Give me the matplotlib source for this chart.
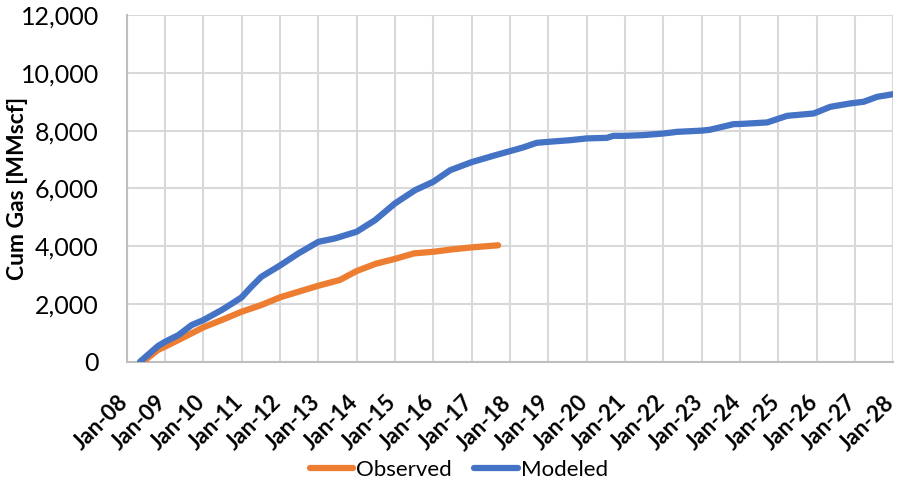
import matplotlib
matplotlib.use("Agg")
import matplotlib.pyplot as plt
from matplotlib.transforms import ScaledTranslation
import pandas as pd

# Cumulative gas production, observed history vs. model forecast
observed_dates = [
    "2008-06-05", "2008-10-25", "2009-01-01", "2009-07-10", "2010-01-01",
    "2010-06-25", "2011-01-01", "2011-07-08", "2012-01-01", "2012-06-25",
    "2013-01-01", "2013-07-25", "2014-01-01", "2014-07-01", "2015-01-01",
    "2015-07-01", "2016-01-01", "2016-07-01", "2017-01-01", "2017-09-10",
]
observed_values = [
    0, 405, 520, 865, 1190,
    1443, 1730, 1962, 2228, 2422,
    2630, 2830, 3140, 3390, 3560,
    3750, 3806, 3890, 3958, 4030,
]

modeled_dates = [
    "2008-05-08", "2008-10-25", "2009-01-01", "2009-05-08", "2009-09-12",
    "2010-01-01", "2010-06-25", "2010-10-30", "2011-01-01", "2011-04-05",
    "2011-07-08", "2012-01-01", "2012-06-25", "2013-01-01", "2013-06-10",
    "2014-01-01", "2014-06-25", "2015-01-01", "2015-07-12", "2016-01-01",
    "2016-06-10", "2017-01-01", "2017-08-15", "2018-01-01", "2018-05-08",
    "2018-09-12", "2019-01-01", "2019-07-30", "2020-01-01", "2020-07-12",
    "2020-09-12", "2021-01-01", "2021-06-25", "2022-01-01", "2022-05-12",
    "2023-01-01", "2023-03-20", "2023-11-02", "2024-01-01", "2024-09-15",
    "2025-03-25", "2025-12-05", "2026-05-10", "2026-11-15", "2027-03-25",
    "2027-07-30", "2028-01-01",
]
modeled_values = [
    0, 540, 690, 920, 1270,
    1440, 1790, 2080, 2230, 2600,
    2940, 3330, 3750, 4150, 4270,
    4500, 4900, 5480, 5940, 6230,
    6630, 6910, 7150, 7290, 7420,
    7578, 7612, 7670, 7730, 7750,
    7820, 7820, 7845, 7900, 7958,
    8000, 8030, 8225, 8230, 8283,
    8512, 8595, 8824, 8941, 9000,
    9170, 9263,
]

year_ticks = list(range(2008, 2029))
tick_labels = [f"Jan-{y % 100:02d}" for y in year_ticks]

plt.rcParams["font.family"] = ["Lato", "DejaVu Sans"]

fig = plt.figure(figsize=(8.98, 4.87), dpi=100)
ax = fig.add_axes([0.141, 0.2573, 0.8538, 0.7117])

obs_x = pd.to_datetime(observed_dates)
mod_x = pd.to_datetime(modeled_dates)

ax.plot(obs_x, observed_values, color="#ED7D31", lw=4.5,
        solid_capstyle="round", solid_joinstyle="round", label="Observed", zorder=3)
ax.plot(mod_x, modeled_values, color="#4472C4", lw=4.5,
        solid_capstyle="round", solid_joinstyle="round", label="Modeled", zorder=3)

ticks = [pd.Timestamp(f"{y}-01-01") for y in year_ticks]
ax.set_xticks(ticks)
ax.set_xlim(ticks[0], ticks[-1])

ax.set_ylim(0, 12000)
ax.set_yticks(range(0, 12001, 2000))
ax.yaxis.set_major_formatter(matplotlib.ticker.FuncFormatter(lambda v, p: f"{int(v):,}"))
ax.tick_params(axis="y", labelsize=18, length=0, pad=20)
ax.tick_params(axis="x", length=0, pad=27)

ax.set_xticklabels(tick_labels, rotation=45, ha="right", va="center",
                   rotation_mode="anchor", fontsize=16, fontweight="bold")
shift = ScaledTranslation(-2 / 100, 0, fig.dpi_scale_trans)
for lbl in ax.get_xticklabels():
    lbl.set_transform(lbl.get_transform() + shift)

ax.grid(True, color="#D9D9D9", lw=1.5)
ax.set_axisbelow(True)
for side in ("top", "right"):
    ax.spines[side].set_visible(False)
for side in ("left", "bottom"):
    ax.spines[side].set_color("#BFBFBF")
    ax.spines[side].set_linewidth(1.5)

ax.set_ylabel("Cum Gas [MMscf]", fontsize=16.5, fontweight="bold")
ax.yaxis.set_label_coords(-0.128, 0.5)

fig.legend(loc="center", bbox_to_anchor=(0.511, 0.035), ncol=2, frameon=False,
           fontsize=16, handlelength=1.95, handletextpad=0.15, columnspacing=1.0)

fig.savefig("out.png", dpi=100)
